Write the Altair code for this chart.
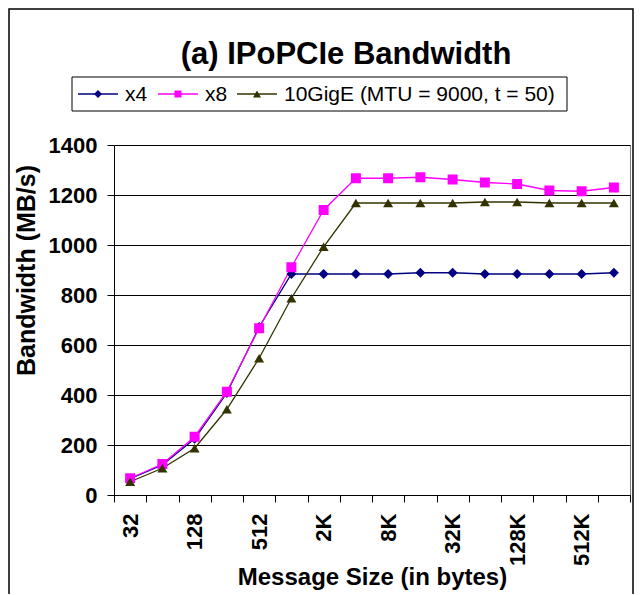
import altair as alt
import pandas as pd

# ---- data ----
sizes = ["32", "64", "128", "256", "512", "1K", "2K", "4K", "8K", "16K",
         "32K", "64K", "128K", "256K", "512K", "1M"]
shown_labels = ["32", "128", "512", "2K", "8K", "32K", "128K", "512K"]
series_names = ["x4", "x8", "10GigE (MTU = 9000, t = 50)"]
x4_values = [65, 120, 225, 408, 672, 884, 884, 884, 884, 889, 889, 884, 884, 884, 884, 889]
x8_values = [67, 124, 233, 413, 667, 911, 1140, 1267, 1267, 1271, 1262, 1250, 1244, 1218, 1215, 1230]
gige_values = [53, 107, 187, 343, 547, 787, 993, 1168, 1168, 1168, 1168, 1172, 1172, 1168, 1168, 1168]
y_ticks = [0, 200, 400, 600, 800, 1000, 1200, 1400]

series_colors = ["#000080", "#FF00FF", "#333300"]
marker_shapes = ["diamond", "square", "triangle-up"]
legend_marker_sizes = [64, 49, 64]

rows = []
for name, vals in zip(series_names, [x4_values, x8_values, gige_values]):
    for s, v in zip(sizes, vals):
        rows.append({"size": s, "series": name, "bw": v})
df = pd.DataFrame(rows)
one = pd.DataFrame({"k": [0]})

FONT = "Liberation Sans"
label_list = ",".join("'%s'" % l for l in shown_labels)

x_enc = alt.X(
    "size:N",
    sort=sizes,
    bandPosition=0.5,
    scale=alt.Scale(type="band", domain=sizes, paddingInner=0, paddingOuter=0),
    axis=alt.Axis(
        title="Message Size (in bytes)",
        labelAngle=-90,
        labelExpr="indexof([%s], datum.value) >= 0 ? datum.label : ''" % label_list,
        tickBand="extent",
        tickSize=7,
        labelPadding=11,
        grid=False,
        titleY=89,
        titleBaseline="alphabetic",
        titleFontSize=24,
    ),
)
y_enc = alt.Y(
    "bw:Q",
    scale=alt.Scale(domain=[0, 1400], nice=False),
    axis=alt.Axis(
        title="Bandwidth (MB/s)",
        values=y_ticks,
        format="d",
        tickSize=7,
        labelPadding=10,
        grid=True,
        titleX=-88,
        titleY=125,
        titleAlign="center",
        titleBaseline="middle",
        titleFontSize=25,
    ),
)
color_scale = alt.Scale(domain=series_names, range=series_colors)
shape_scale = alt.Scale(domain=series_names, range=marker_shapes)

base = alt.Chart(df)

lines = base.mark_line(strokeWidth=1.3).encode(
    x=x_enc, y=y_enc,
    color=alt.Color("series:N", scale=color_scale, legend=None),
    detail="series:N",
)

points = base.mark_point(filled=True, size=100, opacity=1).encode(
    x=x_enc, y=y_enc,
    color=alt.Color("series:N", scale=color_scale, legend=None),
    shape=alt.Shape("series:N", scale=shape_scale, legend=None),
)

# outer chart frame
frame = alt.Chart(one).mark_rect(
    fill="transparent", stroke="black", strokeWidth=1.5
).encode(
    x=alt.value(-105), x2=alt.value(519), y=alt.value(-136), y2=alt.value(600)
)

# legend box (drawn as guide decoration above the plot)
legend_box = alt.Chart(one).mark_rect(
    fill="white", stroke="black", strokeWidth=1
).encode(
    x=alt.value(-42), x2=alt.value(453), y=alt.value(-68), y2=alt.value(-34)
)

legend_layers = [legend_box]
entry_starts = [-36, 44, 123]  # left end of each legend line sample
for name, col, shp, msize, x0 in zip(series_names, series_colors, marker_shapes,
                                      legend_marker_sizes, entry_starts):
    legend_layers.append(
        alt.Chart(one).mark_rule(color=col, strokeWidth=1.5).encode(
            x=alt.value(x0), x2=alt.value(x0 + 40), y=alt.value(-51)
        )
    )
    legend_layers.append(
        alt.Chart(one).mark_point(shape=shp, filled=True, size=msize,
                                  color=col, opacity=1).encode(
            x=alt.value(x0 + 20), y=alt.value(-51)
        )
    )
    legend_layers.append(
        alt.Chart(one).mark_text(text=name, align="left", baseline="middle",
                                 font=FONT, fontSize=21, color="black").encode(
            x=alt.value(x0 + 47), y=alt.value(-50)
        )
    )

chart = alt.layer(frame, lines, points, *legend_layers).properties(
    width=516,
    height=350,
    autosize=alt.AutoSizeParams(type="none"),
    padding={"left": 106, "top": 137, "right": 4, "bottom": 99},
    background="white",
    title=alt.Title(
        "(a) IPoPCIe Bandwidth",
        font=FONT, fontSize=31, fontWeight="bold", color="black",
        anchor="middle", dx=-26, offset=0, dy=87, baseline="alphabetic",
    ),
).configure_view(stroke="#808080").configure_axis(
    labelFont=FONT, labelFontSize=22, labelFontWeight="bold", labelColor="black",
    titleFont=FONT, titleFontSize=23, titleFontWeight="bold", titleColor="black",
    domainColor="black", tickColor="black", gridColor="black", gridOpacity=1,
)

chart.save("out.html", embed_options={"renderer": "svg", "actions": False})
